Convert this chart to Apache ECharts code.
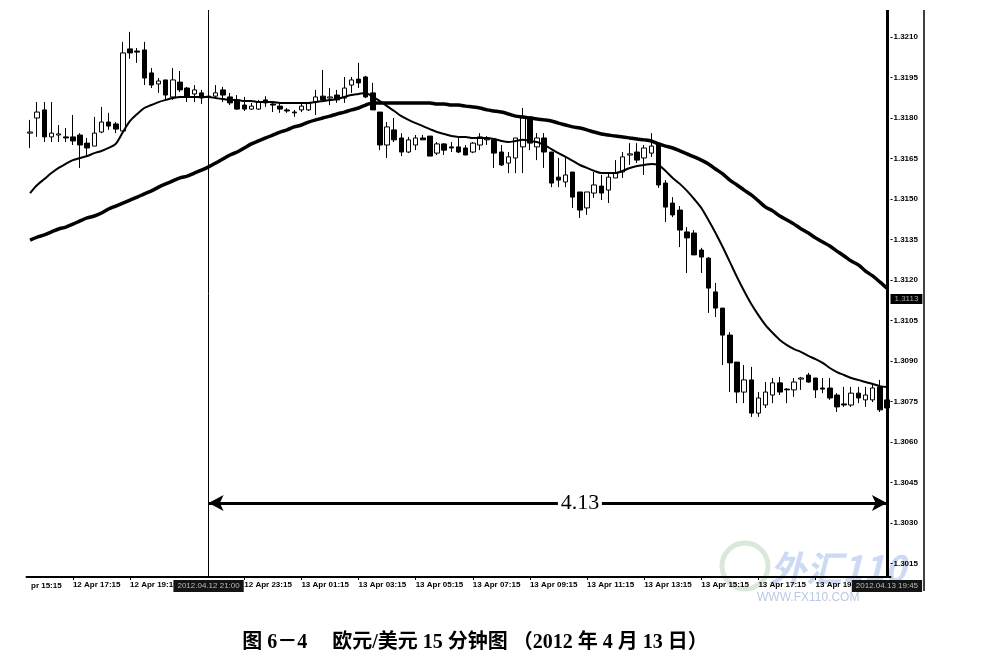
<!DOCTYPE html>
<html><head><meta charset="utf-8">
<script src="https://cdn.jsdelivr.net/npm/echarts@6/dist/echarts.min.js"></script>
<style>html,body{margin:0;padding:0;background:#fff}#c{width:981px;height:669px}</style>
</head><body><div id="c"></div>
<script>
// ---- time slots (15-minute bars starting 12 Apr 15:45) ----
const categories = [];
for (let i = 0; i < 121; i++) {
  const m = 15 * 60 + 45 + 15 * i;
  const day = 12 + Math.floor(m / 1440);
  const mm = m % 1440;
  categories.push(day + ' Apr ' + String(Math.floor(mm / 60)).padStart(2, '0') + ':' + String(mm % 60).padStart(2, '0'));
}
const xTickLabels = ['12 Apr 17:15','12 Apr 19:15','12 Apr 23:15','13 Apr 01:15','13 Apr 03:15','13 Apr 05:15','13 Apr 07:15','13 Apr 09:15','13 Apr 11:15','13 Apr 13:15','13 Apr 15:15','13 Apr 17:15','13 Apr 19:15'];
const yTickValues = [1.3015,1.3030,1.3045,1.3060,1.3075,1.3090,1.3105,1.3120,1.3135,1.3150,1.3165,1.3180,1.3195,1.3210];

// ---- candles ----
const opens = [1.31744,1.31800,1.31830,1.31730,1.31737,1.31730,1.31730,1.31737,1.31707,1.31696,1.31748,1.31785,1.31778,1.31752,1.32056,1.32048,1.32052,1.31967,1.31926,1.31941,
1.31878,1.31933,1.31911,1.31889,1.31893,1.31881,1.31881,1.31904,1.31878,1.31867,1.31848,1.31833,1.31833,1.31867,1.31852,1.31844,1.31830,1.31822,1.31830,1.31830,
1.31859,1.31881,1.31874,1.31885,1.31874,1.31922,1.31944,1.31952,1.31893,1.31822,1.31700,1.31756,1.31726,1.31674,1.31700,1.31726,1.31733,1.31670,1.31704,1.31693,
1.31693,1.31689,1.31674,1.31700,1.31719,1.31719,1.31674,1.31633,1.31652,1.31693,1.31804,1.31693,1.31726,1.31674,1.31581,1.31563,1.31600,1.31526,1.31467,1.31522,
1.31548,1.31533,1.31578,1.31600,1.31663,1.31674,1.31652,1.31670,1.31707,1.31559,1.31485,1.31459,1.31378,1.31374,1.31311,1.31281,1.31156,1.31096,1.30996,1.30896,
1.30785,1.30830,1.30707,1.30737,1.30774,1.30819,1.30796,1.30793,1.30833,1.30848,1.30837,1.30800,1.30800,1.30774,1.30741,1.30737,1.30781,1.30756,1.30756,1.30804,1.30756];
const closes = [1.31748,1.31822,1.31730,1.31744,1.31741,1.31726,1.31715,1.31700,1.31689,1.31744,1.31785,1.31770,1.31759,1.32041,1.32041,1.32044,1.31948,1.31922,1.31937,1.31885,
1.31941,1.31904,1.31878,1.31904,1.31874,1.31878,1.31893,1.31885,1.31856,1.31833,1.31833,1.31844,1.31859,1.31856,1.31848,1.31833,1.31826,1.31819,1.31844,1.31856,
1.31878,1.31867,1.31878,1.31867,1.31911,1.31941,1.31930,1.31878,1.31830,1.31700,1.31767,1.31719,1.31674,1.31719,1.31726,1.31719,1.31659,1.31704,1.31681,1.31689,
1.31674,1.31663,1.31707,1.31730,1.31722,1.31670,1.31626,1.31656,1.31726,1.31804,1.31707,1.31726,1.31674,1.31559,1.31570,1.31589,1.31507,1.31459,1.31526,1.31552,
1.31522,1.31581,1.31596,1.31656,1.31667,1.31644,1.31689,1.31696,1.31552,1.31470,1.31441,1.31385,1.31356,1.31293,1.31285,1.31170,1.31096,1.30996,1.30893,1.30785,
1.30830,1.30707,1.30763,1.30785,1.30819,1.30785,1.30793,1.30822,1.30837,1.30822,1.30793,1.30796,1.30763,1.30730,1.30737,1.30781,1.30763,1.30774,1.30800,1.30719,1.30726];
const lows = [1.31689,1.31730,1.31711,1.31711,1.31711,1.31711,1.31700,1.31615,1.31656,1.31696,1.31744,1.31756,1.31744,1.31748,1.32019,1.32004,1.31922,1.31911,1.31893,1.31867,
1.31867,1.31896,1.31859,1.31859,1.31852,1.31867,1.31874,1.31859,1.31848,1.31830,1.31826,1.31830,1.31830,1.31841,1.31822,1.31819,1.31819,1.31804,1.31822,1.31826,
1.31811,1.31859,1.31848,1.31856,1.31856,1.31893,1.31911,1.31874,1.31830,1.31681,1.31652,1.31711,1.31659,1.31670,1.31681,1.31719,1.31659,1.31663,1.31663,1.31674,
1.31670,1.31663,1.31670,1.31681,1.31700,1.31615,1.31622,1.31596,1.31596,1.31596,1.31681,1.31644,1.31615,1.31544,1.31544,1.31544,1.31467,1.31430,1.31441,1.31504,
1.31496,1.31485,1.31578,1.31578,1.31626,1.31633,1.31589,1.31656,1.31541,1.31415,1.31433,1.31322,1.31226,1.31293,1.31226,1.31078,1.31063,1.30885,1.30785,1.30744,
1.30744,1.30693,1.30693,1.30726,1.30744,1.30774,1.30744,1.30767,1.30793,1.30819,1.30763,1.30781,1.30756,1.30711,1.30730,1.30730,1.30744,1.30730,1.30748,1.30711,1.30719];
const highs = [1.31793,1.31859,1.31859,1.31859,1.31774,1.31763,1.31811,1.31744,1.31726,1.31804,1.31841,1.31819,1.31785,1.32082,1.32119,1.32059,1.32082,1.31985,1.31948,1.31941,
1.31985,1.31974,1.31915,1.31922,1.31904,1.31893,1.31922,1.31915,1.31893,1.31885,1.31878,1.31856,1.31867,1.31881,1.31856,1.31856,1.31837,1.31830,1.31859,1.31859,
1.31904,1.31978,1.31911,1.31904,1.31952,1.31952,1.32004,1.31956,1.31930,1.31822,1.31785,1.31800,1.31744,1.31730,1.31737,1.31737,1.31733,1.31711,1.31707,1.31711,
1.31726,1.31700,1.31711,1.31744,1.31733,1.31726,1.31700,1.31674,1.31726,1.31837,1.31804,1.31744,1.31744,1.31674,1.31652,1.31652,1.31600,1.31526,1.31526,1.31600,
1.31589,1.31596,1.31644,1.31674,1.31707,1.31707,1.31700,1.31744,1.31711,1.31570,1.31507,1.31474,1.31396,1.31385,1.31319,1.31285,1.31189,1.31096,1.31007,1.30896,
1.30885,1.30878,1.30785,1.30822,1.30837,1.30841,1.30800,1.30837,1.30841,1.30856,1.30837,1.30837,1.30837,1.30781,1.30804,1.30804,1.30804,1.30804,1.30819,1.30830,1.30763];

// ---- moving averages ----
const fastMA = [1.31522,1.31552,1.31574,1.31596,1.31615,1.31630,1.31644,1.31652,1.31659,1.31670,1.31678,1.31689,1.31704,1.31748,1.31789,1.31815,1.31837,1.31848,1.31859,1.31867,
1.31874,1.31878,1.31878,1.31878,1.31878,1.31878,1.31874,1.31870,1.31867,1.31867,1.31863,1.31863,1.31859,1.31859,1.31859,1.31856,1.31856,1.31856,1.31856,1.31856,
1.31859,1.31863,1.31867,1.31870,1.31878,1.31885,1.31889,1.31893,1.31878,1.31863,1.31844,1.31826,1.31807,1.31793,1.31781,1.31770,1.31759,1.31748,1.31741,1.31733,
1.31730,1.31730,1.31726,1.31726,1.31726,1.31722,1.31715,1.31711,1.31715,1.31719,1.31715,1.31711,1.31700,1.31685,1.31670,1.31656,1.31641,1.31626,1.31615,1.31604,
1.31596,1.31596,1.31596,1.31604,1.31615,1.31622,1.31626,1.31630,1.31626,1.31604,1.31578,1.31556,1.31530,1.31500,1.31467,1.31422,1.31374,1.31322,1.31267,1.31211,
1.31159,1.31111,1.31070,1.31033,1.31004,1.30978,1.30959,1.30944,1.30933,1.30919,1.30907,1.30893,1.30874,1.30859,1.30848,1.30837,1.30830,1.30822,1.30815,1.30807,1.30804];
const slowMA = [1.31348,1.31359,1.31367,1.31378,1.31389,1.31396,1.31407,1.31419,1.31430,1.31437,1.31448,1.31463,1.31474,1.31485,1.31496,1.31507,1.31519,1.31530,1.31544,1.31556,
1.31567,1.31578,1.31585,1.31596,1.31607,1.31619,1.31633,1.31648,1.31663,1.31674,1.31689,1.31704,1.31715,1.31726,1.31737,1.31748,1.31756,1.31767,1.31774,1.31785,
1.31793,1.31800,1.31807,1.31815,1.31822,1.31830,1.31837,1.31848,1.31856,1.31856,1.31856,1.31856,1.31856,1.31856,1.31856,1.31856,1.31856,1.31852,1.31852,1.31848,
1.31848,1.31844,1.31841,1.31837,1.31830,1.31826,1.31822,1.31815,1.31807,1.31804,1.31800,1.31796,1.31793,1.31789,1.31781,1.31774,1.31767,1.31763,1.31756,1.31748,
1.31741,1.31737,1.31733,1.31730,1.31726,1.31722,1.31719,1.31715,1.31704,1.31696,1.31689,1.31678,1.31667,1.31656,1.31644,1.31630,1.31611,1.31593,1.31570,1.31552,
1.31533,1.31515,1.31493,1.31470,1.31456,1.31437,1.31422,1.31407,1.31389,1.31374,1.31356,1.31341,1.31326,1.31307,1.31289,1.31270,1.31256,1.31233,1.31215,1.31193,1.31170];

// ---- annotations ----
const vLines = [
  { at: '12 Apr 22:00', text: '2012.04.12 21:00', width: 1 },
  { at: '13 Apr 21:45', text: '2012.04.13 19:45', width: 3 }
];
const spanFrom = '12 Apr 22:00', spanTo = '13 Apr 21:45', spanLabelAt = '13 Apr 11:00';
const spanPrice = 1.30374, spanText = '4.13';
const priceBox = 1.3113;

const candleData = opens.map((o, i) => [o, closes[i], lows[i], highs[i]]);
const showTick = (idx, v) => xTickLabels.indexOf(categories[idx]) >= 0;
const axisFont = { fontSize: 8, fontWeight: 'bold', fontFamily: 'Liberation Sans', color: '#000' };

const chart = echarts.init(document.getElementById('c'), null, { renderer: 'canvas' });
chart.setOption({
  animation: false,
  backgroundColor: '#fff',
  grid: { left: 26.5, top: 10, width: 864, height: 567 },
  xAxis: {
    type: 'category', data: categories, boundaryGap: true,
    axisLine: { lineStyle: { color: '#000', width: 2 } },
    axisTick: { show: true, alignWithLabel: true, interval: showTick, length: 3, lineStyle: { color: '#000' } },
    axisLabel: Object.assign({ interval: showTick, align: 'left', margin: 4 }, axisFont),
    splitLine: { show: false }
  },
  yAxis: {
    type: 'value', position: 'right', min: 1.3010, max: 1.3220,
    axisLine: { show: false }, splitLine: { show: false },
    axisTick: { show: true, customValues: yTickValues, length: 2, lineStyle: { color: '#000' } },
    axisLabel: Object.assign({ customValues: yTickValues, margin: 3, formatter: v => v.toFixed(4) }, axisFont)
  },
  series: [
    {
      type: 'candlestick', data: candleData, barWidth: 5,
      itemStyle: { color: '#fff', color0: '#000', borderColor: '#000', borderColor0: '#000', borderWidth: 1 },
      markLine: {
        silent: true, symbol: 'none', animation: false,
        data: vLines.map(l => ({
          xAxis: l.at,
          lineStyle: { color: '#000', width: l.width, type: 'solid' },
          label: { show: true, position: 'start', formatter: l.text, distance: 3,
            backgroundColor: '#141414', color: '#bbb', padding: [2, 4], fontSize: 8, fontFamily: 'Liberation Sans' }
        }))
      }
    },
    {
      type: 'line', data: slowMA, showSymbol: false, smooth: 0.3,
      lineStyle: { color: '#000', width: 3.5 }, z: 3,
      markLine: {
        silent: true, symbol: 'none', animation: false, precision: 5,
        lineStyle: { color: 'rgba(0,0,0,0)', width: 1 },
        label: { show: true, position: 'end', distance: 0, formatter: priceBox.toFixed(4),
          backgroundColor: '#000', color: '#aaa', padding: [1, 4], fontSize: 8, fontFamily: 'Liberation Sans' },
        data: [{ yAxis: priceBox }]
      }
    },
    {
      type: 'line', data: fastMA, showSymbol: false, smooth: 0.3,
      lineStyle: { color: '#000', width: 2 }, z: 3,
      markLine: {
        silent: true, animation: false, precision: 5,
        symbol: ['arrow', 'arrow'], symbolSize: [12, 15],
        lineStyle: { color: '#000', width: 3, type: 'solid' },
        label: { show: false },
        data: [[{ coord: [spanFrom, spanPrice] }, { coord: [spanTo, spanPrice] }]]
      },
      markPoint: {
        z: 10, silent: true, animation: false,
        symbol: 'rect', symbolSize: [44, 26],
        itemStyle: { color: '#fff' },
        label: { show: true, position: 'inside', formatter: spanText, color: '#000', fontSize: 22, fontFamily: 'Liberation Serif' },
        data: [{ coord: [spanLabelAt, spanPrice] }]
      }
    }
  ],
  graphic: [
    { type: 'line', shape: { x1: 924, y1: 10, x2: 924, y2: 591 }, style: { stroke: '#000', lineWidth: 1.5 }, silent: true },
    { type: 'text', x: 31, y: 586, silent: true,
      style: { text: 'pr 15:15', fontSize: 8, fontWeight: 'bold', fontFamily: 'Liberation Sans', fill: '#000', verticalAlign: 'middle' } },
    { type: 'circle', shape: { cx: 745, cy: 566, r: 23 }, style: { fill: 'none', stroke: 'rgba(150,190,150,0.35)', lineWidth: 5 }, silent: true },
    { type: 'text', x: 770, y: 568, silent: true,
      style: { text: '外汇110', fontSize: 36, fontWeight: 'bold', fontStyle: 'italic', fontFamily: 'Noto Sans CJK SC', fill: 'rgba(110,150,220,0.35)', verticalAlign: 'middle' } },
    { type: 'text', x: 757, y: 598, silent: true,
      style: { text: 'WWW.FX110.COM', fontSize: 12, fontFamily: 'Liberation Sans', fill: 'rgba(140,165,210,0.6)', verticalAlign: 'middle' } },
    { type: 'text', x: 475, y: 643, silent: true,
      style: { text: '图 6－4　 欧元/美元 15 分钟图 （2012 年 4 月 13 日）', fontSize: 20, fontWeight: 'bold',
        fontFamily: 'Liberation Serif, "Noto Sans CJK SC"', fill: '#000', align: 'center', verticalAlign: 'middle' } }
  ]
});
</script></body></html>
